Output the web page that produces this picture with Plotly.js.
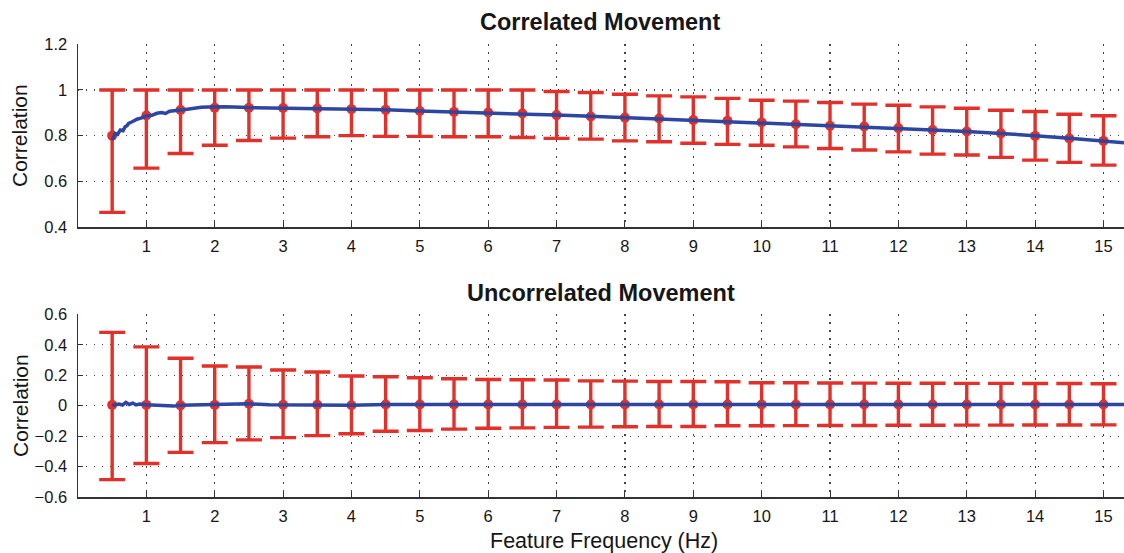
<!DOCTYPE html>
<html>
<head>
<meta charset="utf-8">
<script src="https://cdn.plot.ly/plotly-3.0.1.min.js"></script>
<style>html,body{margin:0;padding:0;background:#fff;}#chart{width:1124px;height:553px;}</style>
</head>
<body>
<div id="chart"></div>
<script>
// ---- data ----
const freqs = [0.5,1,1.5,2,2.5,3,3.5,4,4.5,5,5.5,6,6.5,7,7.5,8,8.5,9,9.5,10,10.5,11,11.5,12,12.5,13,13.5,14,14.5,15];

// Correlated movement: means and error-bar limits
const corrMean  = [0.800,0.888,0.912,0.922,0.922,0.921,0.919,0.916,0.913,0.908,0.904,0.901,0.897,0.890,0.884,0.879,0.875,0.868,0.865,0.858,0.850,0.843,0.840,0.833,0.825,0.818,0.810,0.799,0.788,0.777];
const corrUpper = [1.000,1.000,1.000,1.000,1.000,1.000,1.000,1.000,1.000,1.000,1.000,1.000,1.000,0.993,0.989,0.981,0.974,0.970,0.963,0.955,0.951,0.945,0.938,0.933,0.926,0.920,0.911,0.906,0.894,0.887];
const corrLower = [0.464,0.658,0.722,0.758,0.779,0.789,0.795,0.800,0.797,0.797,0.795,0.795,0.792,0.788,0.785,0.777,0.773,0.767,0.762,0.758,0.751,0.744,0.737,0.729,0.719,0.715,0.705,0.693,0.683,0.671];

// Correlated movement: continuous curve
const corrCurveX = [0.5,0.52,0.545,0.58,0.62,0.66,0.69,0.72,0.74,0.8,0.862,0.93,1.0,1.08,1.155,1.22,1.28,1.34,1.4,1.5,1.6,1.69,1.8,1.9,2.0,2.16,2.5,3.0,3.5,4.0,4.5,5.0,5.5,6.0,6.5,7.0,7.5,8.0,8.5,9.0,9.5,10.0,10.5,11.0,11.5,12.0,12.5,13.0,13.5,14.0,14.5,15.0,15.3];
const corrCurveY = [0.781,0.795,0.810,0.806,0.825,0.822,0.839,0.845,0.854,0.862,0.872,0.878,0.886,0.889,0.898,0.901,0.897,0.907,0.910,0.912,0.916,0.921,0.924,0.925,0.926,0.927,0.923,0.921,0.919,0.917,0.913,0.908,0.904,0.901,0.896,0.890,0.885,0.879,0.874,0.868,0.864,0.858,0.851,0.844,0.839,0.832,0.825,0.818,0.810,0.800,0.789,0.777,0.769];

// Uncorrelated movement: means and error-bar limits
const uncMean  = [0.005,0.005,0.002,0.005,0.012,0.006,0.006,0.003,0.007,0.007,0.007,0.007,0.007,0.007,0.007,0.007,0.007,0.007,0.007,0.007,0.007,0.007,0.007,0.007,0.007,0.007,0.007,0.007,0.007,0.007];
const uncUpper = [0.481,0.386,0.311,0.260,0.254,0.234,0.221,0.195,0.190,0.183,0.177,0.172,0.170,0.168,0.163,0.161,0.159,0.159,0.157,0.150,0.150,0.149,0.148,0.147,0.147,0.146,0.146,0.145,0.145,0.144];
const uncLower = [-0.486,-0.380,-0.307,-0.243,-0.225,-0.210,-0.197,-0.185,-0.168,-0.163,-0.154,-0.148,-0.146,-0.143,-0.141,-0.139,-0.137,-0.137,-0.132,-0.132,-0.131,-0.130,-0.130,-0.129,-0.129,-0.128,-0.128,-0.127,-0.127,-0.126];

// Uncorrelated movement: continuous curve
const uncCurveX = [0.5,0.55,0.6,0.65,0.7,0.75,0.8,0.85,0.9,1.0,1.1,1.2,1.3,1.4,1.5,1.6,1.8,2.0,2.2,2.5,2.8,3.0,3.5,4.0,4.5,5.0,6.0,7.0,8.0,9.0,10.0,11.0,12.0,13.0,14.0,15.0,15.3];
const uncCurveY = [0.002,0.006,0.010,0.004,0.022,0.008,0.017,0.005,0.010,0.006,0.004,0.003,0.000,-0.003,0.003,0.004,0.001,0.003,0.008,0.012,0.006,0.005,0.004,0.002,0.007,0.008,0.008,0.008,0.008,0.008,0.008,0.008,0.008,0.008,0.008,0.008,0.008];

const xTicks = [1,2,3,4,5,6,7,8,9,10,11,12,13,14,15];
const titles = ["Correlated Movement", "Uncorrelated Movement"];
const xLabel = "Feature Frequency (Hz)";
const yLabel = "Correlation";

// ---- styling ----
const RED = '#E2312A';
const BLUE = '#2D46A2';
const FONT = 'Liberation Sans, Arial, Helvetica, sans-serif';
const TXT = '#161616';

function errTrace(mean, up, lo, xa, ya) {
  return {
    type: 'scatter', mode: 'markers', x: freqs, y: mean, xaxis: xa, yaxis: ya,
    marker: {color: RED, size: 10},
    error_y: {type: 'data', symmetric: false,
      array: up.map((u, i) => u - mean[i]),
      arrayminus: lo.map((l, i) => mean[i] - l),
      color: RED, thickness: 3.4, width: 13},
    hoverinfo: 'skip', showlegend: false
  };
}
function curveTrace(xs, ys, xa, ya) {
  return {type: 'scatter', mode: 'lines', x: xs, y: ys, xaxis: xa, yaxis: ya,
    line: {color: BLUE, width: 3.5}, showlegend: false, hoverinfo: 'skip'};
}

const data = [
  errTrace(corrMean, corrUpper, corrLower, 'x', 'y'),
  curveTrace(corrCurveX, corrCurveY, 'x', 'y'),
  errTrace(uncMean, uncUpper, uncLower, 'x2', 'y2'),
  curveTrace(uncCurveX, uncCurveY, 'x2', 'y2')
];

function xAxis(anchor) {
  return {anchor: anchor, domain: [0, 1], range: [0, 15.3], tickvals: xTicks,
    ticks: 'inside', ticklen: 5, tickwidth: 1, tickcolor: '#333',
    showline: true, linecolor: '#333', linewidth: 1.5, mirror: false,
    showgrid: true, gridcolor: '#444', gridwidth: 1.2, griddash: '1.2px,6.8px',
    zeroline: false, tickfont: {family: FONT, size: 16.5, color: TXT}, ticklabelstandoff: 4};
}
function yAxis(anchor, domain, range) {
  return {anchor: anchor, domain: domain, range: range, dtick: 0.2, tick0: range[0],
    ticks: 'inside', ticklen: 5, tickwidth: 1, tickcolor: '#333',
    showline: true, linecolor: '#333', linewidth: 1.5, mirror: false,
    showgrid: true, gridcolor: '#444', gridwidth: 1.2, griddash: '1.2px,6.8px',
    zeroline: false, tickfont: {family: FONT, size: 16.5, color: TXT}, ticklabelstandoff: 6};
}

const W = 1124, H = 553, L = 78;
const px = v => (v - L) / (W - L);
const py = v => (H - v) / H;

const layout = {
  width: W, height: H,
  margin: {l: L, r: 0, t: 0, b: 0},
  paper_bgcolor: '#fff', plot_bgcolor: '#fff',
  font: {family: FONT, color: TXT},
  xaxis: xAxis('y'),
  yaxis: yAxis('x', [py(227), py(44.3)], [0.4, 1.2]),
  xaxis2: xAxis('y2'),
  yaxis2: yAxis('x2', [py(497), py(314.3)], [-0.6, 0.6]),
  showlegend: false,
  annotations: [
    {text: '<b>' + titles[0] + '</b>', xref: 'paper', yref: 'paper', x: px(600), y: py(22), xanchor: 'center', yanchor: 'middle', showarrow: false, font: {size: 23.5, family: FONT, color: TXT}},
    {text: '<b>' + titles[1] + '</b>', xref: 'paper', yref: 'paper', x: px(601), y: py(293), xanchor: 'center', yanchor: 'middle', showarrow: false, font: {size: 23.5, family: FONT, color: TXT}},
    {text: xLabel, xref: 'paper', yref: 'paper', x: px(604), y: py(541), xanchor: 'center', yanchor: 'middle', showarrow: false, font: {size: 21.5, family: FONT, color: TXT}},
    {text: yLabel, xref: 'paper', yref: 'paper', x: px(20), y: py(136), xanchor: 'center', yanchor: 'middle', textangle: -90, showarrow: false, font: {size: 21, family: FONT, color: TXT}},
    {text: yLabel, xref: 'paper', yref: 'paper', x: px(20), y: py(406), xanchor: 'center', yanchor: 'middle', textangle: -90, showarrow: false, font: {size: 21, family: FONT, color: TXT}}
  ]
};

Plotly.newPlot('chart', data, layout, {displayModeBar: false, staticPlot: true});
</script>
</body>
</html>
